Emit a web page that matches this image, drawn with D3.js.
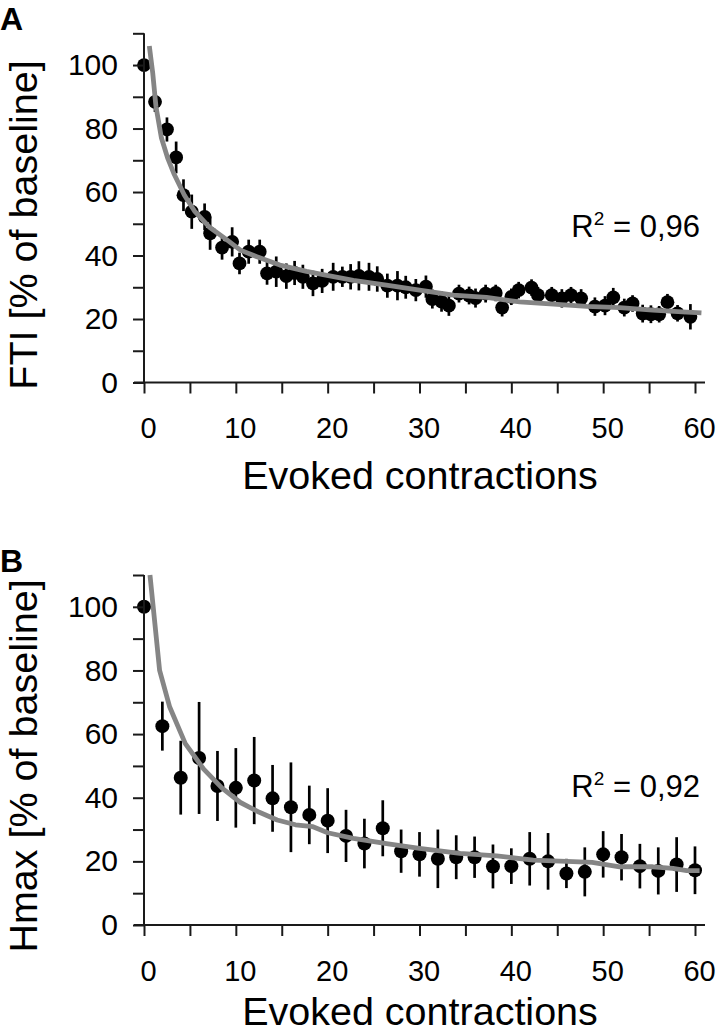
<!DOCTYPE html>
<html><head><meta charset="utf-8">
<script src="https://cdn.jsdelivr.net/npm/d3@7"></script>
<style>
body{margin:0;background:#fff}
svg text{font-family:"Liberation Sans",Arial,Helvetica,sans-serif;fill:#000}
</style>
</head><body>
<svg id="chart" width="720" height="1034"></svg>
<script>
// ---------- Panel A : FTI ----------
const ftiX   = [0,1.2,2.5,3.5,4.3,5.2,6.6,7.2,8.5,9.6,10.4,11.4,12.6,13.4,14.4,15.5,16.4,17.3,18.4,19.4,20.6,21.6,22.5,23.4,24.5,25.4,26.5,27.6,28.5,29.6,30.7,31.4,32.4,33.2,34.3,35.4,36.1,37.2,38.3,39.0,40.0,40.8,42.2,42.9,44.4,45.5,46.5,47.6,49.1,50.2,51.1,52.3,53.2,54.3,55.2,56.1,57.0,58.1,59.5];
const ftiY   = [100,88.4,79.7,70.9,59.0,53.8,52.2,47.0,42.5,44.3,37.5,41.2,41.2,34.4,34.9,33.5,34.5,33.3,31.2,32.0,33.3,33.3,33.3,33.6,33.3,32.6,30.5,30.5,30.0,29.1,30.2,26.3,25.5,24.2,28.0,27.4,26.6,28.0,28.2,23.6,27.0,29.1,29.9,27.5,27.5,26.5,27.5,26.5,23.9,24.2,26.8,23.6,24.9,21.7,21.5,21.5,25.3,21.8,20.7];
const ftiErr = [1.5,3.2,3.8,5.0,5.0,5.4,4.2,5.2,3.8,4.6,3.4,3.8,3.8,3.6,4.8,4.0,3.8,3.8,4.0,3.8,4.4,3.2,4.0,4.6,4.4,4.0,3.8,4.6,3.6,3.5,3.5,3.0,3.2,3.2,2.8,2.8,3.0,2.8,2.6,2.8,2.6,2.6,2.6,2.6,2.6,2.9,2.6,2.9,2.9,3.0,3.0,2.8,2.6,2.8,2.8,2.6,2.6,2.6,4.0];
const ftiFitX = [0.58,0.95,1.3,1.9,2.6,3.3,4.4,5.5,7.1,9.0,10.5,12.3,14.8,17.7,19.5,22.8,26.4,30.0,33.7,37.3,40.9,44.6,48.2,51.8,55.4,59.1,60.7];
const ftiFitY = [106,97.5,87,77,70.5,65.5,59,54,49,45,41.7,39.6,37,35,34,32.2,30.7,29.1,27.5,26.8,25.4,24.7,24.0,23.6,22.8,22.2,21.9];

// ---------- Panel B : Hmax ----------
const hmaxX   = [0,2,4,6,8,10,12,14,16,18,20,22,24,26,28,30,32,34,36,38,40,42,44,46,48,50,52,54,56,58,60];
const hmaxY   = [100,62.5,46.3,52.5,43.7,43.1,45.4,39.8,37.0,34.6,32.8,28.0,25.6,30.4,23.2,22.2,20.8,21.3,21.3,18.4,18.5,20.8,20.0,16.2,16.7,22.2,21.3,18.5,17.0,19.0,17.2];
const hmaxErr = [0,7.7,11.6,17.6,11.0,12.5,13.7,10.5,14.1,9.2,10.2,8.2,7.8,8.8,6.8,7.0,9.2,6.9,6.5,6.9,5.6,8.4,8.9,4.6,7.7,7.3,7.3,7.0,7.4,8.6,7.5];
const hmaxFitX = [0.65,1.7,2.8,4.5,6.5,8.5,10.5,12.5,14.5,16.5,18.4,20.0,22.8,26.4,30.0,34.4,38.4,42.4,46.7,48.8,51.8,55.4,57.6,59.1,60.5];
const hmaxFitY = [110,80,68.5,57,49,43,38.5,35.5,33,31.5,30.9,29,27.2,25.6,24.1,22.5,21.7,20.4,19.9,19.7,18.3,18.3,17.8,17.1,17.1];

// ---------- Axes ----------
const xTickValues = [0,5,10,15,20,25,30,35,40,45,50,55,60];
const xTickLabels = [0,10,20,30,40,50,60];
const yTickValues = [0,10,20,30,40,50,60,70,80,90,100,110];
const yTickLabels = [0,20,40,60,80,100];
const xTitle = "Evoked contractions";

const panels = [
  {letter:"A", yTitle:"FTI [% of baseline]", r2:"0,96", xs:ftiX, ys:ftiY, es:ftiErr, fx:ftiFitX, fy:ftiFitY,
   y0:382.5, yTop:33.3, letterY:29.5, yTitleC:225, r2Y:237, xTitleY:489, r:6.9},
  {letter:"B", yTitle:"Hmax [% of baseline]", r2:"0,92", xs:hmaxX, ys:hmaxY, es:hmaxErr, fx:hmaxFitX, fy:hmaxFitY,
   y0:925, yTop:575, letterY:572, yTitleC:766, r2Y:797, xTitleY:1025, r:7}
];

const svg = d3.select("#chart");
svg.append("rect").attr("width",720).attr("height",1034).attr("fill","#fff");

const x = d3.scaleLinear().domain([0,60]).range([144,695]);
const axisColor = "#1a1a1a";
const fontFam = "'Liberation Sans',Arial,sans-serif";

panels.forEach(p => {
  const y = d3.scaleLinear().domain([0,110]).range([p.y0, p.yTop]);
  const g = svg.append("g");

  // error bars
  g.selectAll("line.err").data(p.xs.map((v,i)=>({x:v,y:p.ys[i],e:p.es[i]})))
    .join("line").attr("class","err")
    .attr("x1",d=>x(d.x)).attr("x2",d=>x(d.x))
    .attr("y1",d=>y(d.y+d.e)).attr("y2",d=>y(d.y-d.e))
    .attr("stroke","#000").attr("stroke-width",2.7);

  // points
  g.selectAll("circle").data(p.xs.map((v,i)=>({x:v,y:p.ys[i]})))
    .join("circle")
    .attr("cx",d=>x(d.x)).attr("cy",d=>y(d.y)).attr("r",p.r).attr("fill","#000");

  // fit line
  const line = d3.line().x(d=>x(d[0])).y(d=>y(d[1]));
  g.append("path").datum(p.fx.map((v,i)=>[v,p.fy[i]]))
    .attr("d",line).attr("fill","none").attr("stroke","#858585")
    .attr("stroke-width",4.8).attr("stroke-linejoin","round");

  // x axis
  const xa = g.append("g").attr("transform",`translate(0,${p.y0})`)
    .call(d3.axisBottom(x).tickValues(xTickValues).tickSize(11).tickPadding(24)
      .tickFormat(d => xTickLabels.includes(d) ? d : ""));
  xa.select(".domain").remove();
  xa.selectAll("line").attr("stroke",axisColor).attr("stroke-width",2);
  xa.selectAll("text").attr("font-size",29).attr("dx",4)
    .style("font-family",fontFam).attr("fill","#000");
  g.append("line").attr("x1",134).attr("x2",705).attr("y1",p.y0).attr("y2",p.y0)
    .attr("stroke",axisColor).attr("stroke-width",2);

  // y axis
  const ya = g.append("g").attr("transform",`translate(144,0)`)
    .call(d3.axisLeft(y).tickValues(yTickValues).tickSize(11).tickPadding(15)
      .tickFormat(d => yTickLabels.includes(d) ? d : ""));
  ya.select(".domain").remove();
  ya.selectAll("line").attr("stroke",axisColor).attr("stroke-width",2);
  ya.selectAll("text").attr("font-size",30)
    .style("font-family",fontFam).attr("fill","#000");
  g.append("line").attr("x1",144).attr("x2",144).attr("y1",p.yTop).attr("y2",p.y0)
    .attr("stroke",axisColor).attr("stroke-width",2);

  // titles
  g.append("text").attr("x",420).attr("y",p.xTitleY).attr("text-anchor","middle")
    .attr("font-size",39.5).text(xTitle);
  g.append("text").attr("transform",`translate(37,${p.yTitleC}) rotate(-90)`)
    .attr("text-anchor","middle").attr("font-size",39.5).text(p.yTitle);

  // panel letter
  g.append("text").attr("x",0).attr("y",p.letterY).attr("font-size",32)
    .attr("font-weight","bold").text(p.letter);

  // R^2
  const t = g.append("text").attr("x",700).attr("y",p.r2Y).attr("text-anchor","end").attr("font-size",31);
  t.append("tspan").text("R");
  t.append("tspan").attr("font-size",19).attr("dy",-12).text("2");
  t.append("tspan").attr("dy",12).text(" = " + p.r2);
});
</script>
</body></html>
